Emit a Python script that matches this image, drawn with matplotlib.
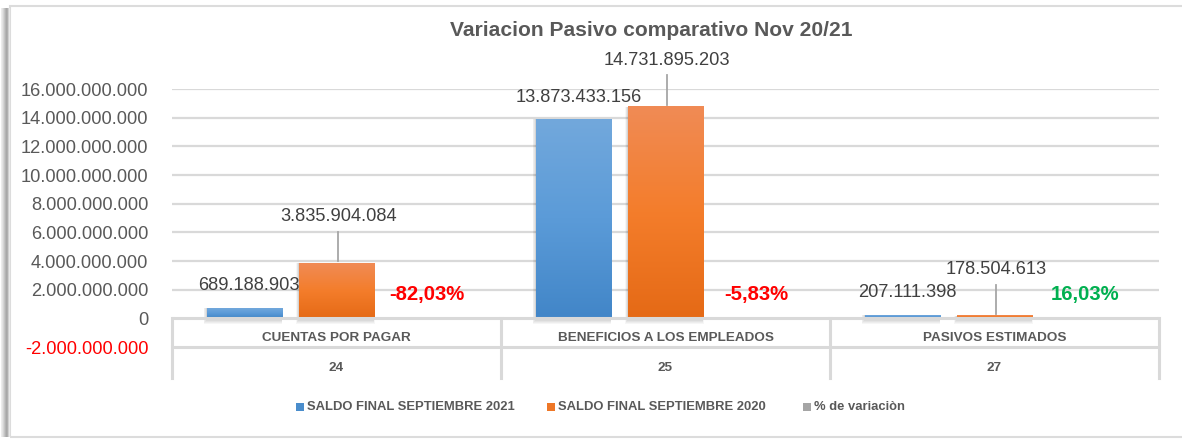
import matplotlib
matplotlib.use("Agg")
import matplotlib.pyplot as plt
import numpy as np
from matplotlib.patches import Rectangle
from matplotlib.colors import LinearSegmentedColormap

plt.rcParams['font.family'] = ['Liberation Sans', 'DejaVu Sans']

# ---------------- data ----------------
title = "Variacion Pasivo comparativo Nov 20/21"
categories = ["CUENTAS POR PAGAR", "BENEFICIOS A LOS EMPLEADOS", "PASIVOS ESTIMADOS"]
codes = ["24", "25", "27"]
series_names = ["SALDO FINAL SEPTIEMBRE 2021", "SALDO FINAL SEPTIEMBRE 2020", "% de variaciòn"]
saldo_2021 = [689188903, 13873433156, 207111398]
saldo_2020 = [3835904084, 14731895203, 178504613]
pct_variacion = [-82.03, -5.83, 16.03]
yticks = [-2e9, 0, 2e9, 4e9, 6e9, 8e9, 10e9, 12e9, 14e9, 16e9]

W, H = 1182, 440
fig = plt.figure(figsize=(W / 100, H / 100), dpi=100)

def fx(x):
    return x / W

def fy(y):
    return 1 - y / H

# axes: x 172..1159 px, y 89 (16e9) .. 347 (-2e9)
ax = fig.add_axes([fx(172), fy(347), (1159 - 172) / W, (347 - 89) / H])
ax.set_xlim(-0.5, 2.5)
ax.set_ylim(-2e9, 16e9)
ypx = 18e9 / 258.0   # data units per pixel (y)
xpx = 1.0 / 329.0    # data units per pixel (x)

TXT = "#595959"
GRID = "#d9d9d9"
S = 0.83  # width compensation (reference uses a narrow face)

for s in ax.spines.values():
    s.set_visible(False)
ax.set_xticks([])
ax.set_yticks(yticks)
ax.set_yticklabels([f"{v:,.0f}".replace(",", ".") for v in yticks], fontsize=15.8 * S)
for lbl, v in zip(ax.get_yticklabels(), yticks):
    lbl.set_color("#ff0000" if v < 0 else TXT)
ax.tick_params(axis='y', length=0, pad=17)
for v in yticks:
    if v > 0:
        ax.axhline(v, color=GRID, lw=1.6, zorder=0)

x = np.arange(len(categories))
off = 0.28
bw = 0.228

blue_cm = LinearSegmentedColormap.from_list("b", ["#4286c8", "#5b9bd8", "#72a8dc"])
orng_cm = LinearSegmentedColormap.from_list("o", ["#e56a16", "#f47d2b", "#f08b55"])

def grad_bar(xc, h, cmap):
    x0, x1 = xc - bw / 2, xc + bw / 2
    # soft shadow
    for i in range(1, 6):
        ax.add_patch(Rectangle((x0 - i * xpx * 0.6, -i * ypx * 1.2), (x1 - x0) + 1.2 * i * xpx * 0.6,
                               h + i * ypx * 1.2, facecolor="#000000", alpha=0.035,
                               edgecolor="none", zorder=1.5))
    grad = np.linspace(1, 0, 100).reshape(-1, 1)
    ax.imshow(grad, cmap=cmap, extent=(x0, x1, 0, h), aspect='auto', zorder=2,
              interpolation='bilinear')

for i in range(len(categories)):
    grad_bar(x[i] - off, saldo_2021[i], blue_cm)
    grad_bar(x[i], saldo_2020[i], orng_cm)
# percentage series drawn on the same axis (values are negligible on this scale)
ax.bar(x + off, pct_variacion, width=bw, color="#a5a5a5", zorder=2)
ax.set_xlim(-0.5, 2.5)
ax.set_ylim(-2e9, 16e9)

# zero axis line
ax.axhline(0, color=GRID, lw=2.2, zorder=3)

# data labels (value-positioned)
lab_fs = 15.8 * S
lbl_21_y = [2.30e9, 15.44e9, 1.77e9]
lbl_20_y = [7.07e9, 18.0e9, 3.38e9]
for i in range(len(categories)):
    ax.text(x[i] - off + 0.015, lbl_21_y[i], f"{saldo_2021[i]:,}".replace(",", "."),
            ha='center', va='center', fontsize=lab_fs, color="#404040", clip_on=False, zorder=5)
    ax.text(x[i] + 0.005, lbl_20_y[i], f"{saldo_2020[i]:,}".replace(",", "."),
            ha='center', va='center', fontsize=lab_fs, color="#404040", clip_on=False, zorder=5)
    # leader line
    top_line = lbl_20_y[i] - 15 * ypx
    bot_line = saldo_2020[i] + 2 * ypx
    ax.plot([x[i] + 0.005, x[i] + 0.005], [bot_line, top_line], color="#a6a6a6", lw=1.3,
            clip_on=False, zorder=4)
    pc = pct_variacion[i]
    col = "#ff0000" if pc < 0 else "#00b050"
    ax.text(x[i] + off - 0.005, 1.63e9, f"{pc:.2f}%".replace(".", ","), ha='center', va='center',
            fontsize=17.2 * 0.85, fontweight='bold', color=col, clip_on=False, zorder=5)

# category table (below zero line)
for xb in [172, 501, 830, 1159]:
    fig.add_artist(plt.Line2D([fx(xb), fx(xb)], [fy(318), fy(378)], color=GRID, lw=2.2))
fig.add_artist(plt.Line2D([fx(172), fx(1159)], [fy(347), fy(347)], color=GRID, lw=2.2))
centers_px = [336.5, 665.5, 994.5]
for c, name, code in zip(centers_px, categories, codes):
    fig.text(fx(c), fy(338), name, ha='center', va='center', fontsize=11.7 * S,
             fontweight='bold', color=TXT)
    fig.text(fx(c), fy(368), code, ha='center', va='center', fontsize=11.7 * S,
             fontweight='bold', color=TXT)

# title
fig.text(fx(651), fy(30), title, ha='center', va='center', fontsize=18.2 * S,
         fontweight='bold', color=TXT)

# legend
leg_items = [(296, "#4a8dcc"), (547, "#ee7727"), (803, "#a5a5a5")]
for (lx, col), name in zip(leg_items, series_names):
    fig.add_artist(Rectangle((fx(lx), fy(411)), 8 / W, 8 / H, transform=fig.transFigure,
                             facecolor=col, edgecolor='none'))
    fig.text(fx(lx + 11), fy(407), name, ha='left', va='center', fontsize=11.3 * S,
             fontweight='bold', color=TXT)

# outer frame with left shadow
fig.add_artist(Rectangle((fx(10), fy(437)), (W - 10) / W + 0.01, (437 - 6) / H,
                         transform=fig.transFigure, facecolor='none', edgecolor="#dcdcdc", lw=1.5))
shade = ["#ececec", "#e2e2e2", "#d4d4d4", "#c4c4c4", "#b4b4b4", "#a8a8a8", "#b0b0b0", "#cfcfcf", "#e8e8e8"]
for k, c in enumerate(shade):
    fig.add_artist(Rectangle((fx(1 + k), fy(437)), 1.2 / W, (437 - 8) / H,
                             transform=fig.transFigure, facecolor=c, edgecolor='none'))

fig.savefig("out.png", dpi=100)
